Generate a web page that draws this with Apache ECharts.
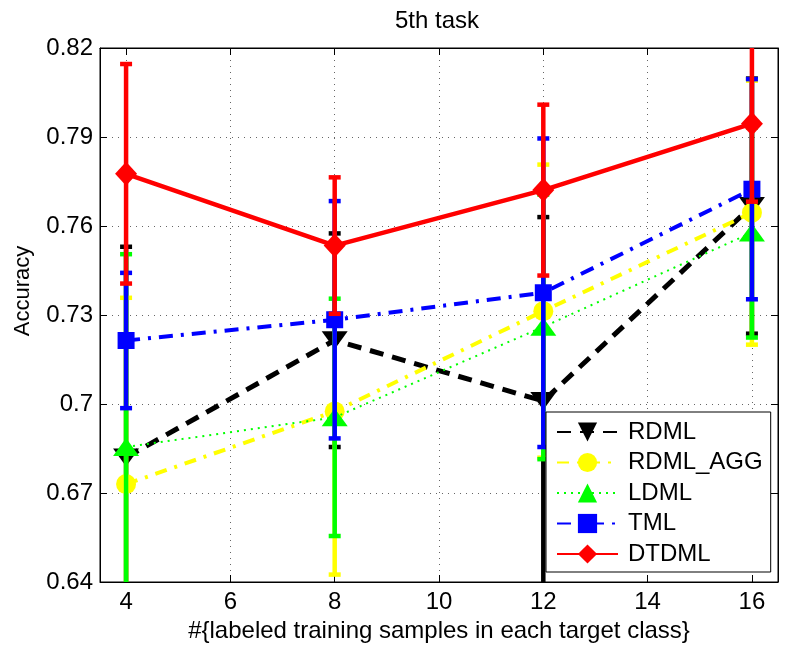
<!DOCTYPE html>
<html>
<head>
<meta charset="utf-8">
<script src="https://cdn.jsdelivr.net/npm/echarts@6/dist/echarts.min.js"></script>
<style>
html, body { margin: 0; padding: 0; background: #fff; }
#chart { width: 812px; height: 652px; }
</style>
</head>
<body>
<div id="chart"></div>
<script>
// number of labeled samples per class
var samples = [4, 8, 12, 16];
var xTicks = [4, 6, 8, 10, 12, 14, 16];

// mean accuracy and error bar half-length
var rdml = [0.682, 0.7215, 0.701, 0.7667];
var rdmlErr = [0.071, 0.036, 0.062, 0.043];
var rdmlAgg = [0.673, 0.6975, 0.7313, 0.7645];
var rdmlAggErr = [0.0628, 0.055, 0.0494, 0.0445];
var ldml = [0.6855, 0.6955, 0.726, 0.7578];
var ldmlErr = [0.065, 0.04, 0.0446, 0.0354];
var tml = [0.7214, 0.7284, 0.7375, 0.7724];
var tmlErr = [0.0228, 0.040, 0.052, 0.0371];
var dtdml = [0.7776, 0.7534, 0.7721, 0.7945];
var dtdmlErr = [0.037, 0.023, 0.0288, 0.0263];

var font = "'Liberation Sans', Arial, Helvetica, sans-serif";

var myChart = echarts.init(document.getElementById('chart'));

function pairs(vals) {
    return samples.map(function (x, i) { return [x, vals[i]]; });
}

function errorBars(name, mean, err, color, z) {
    return {
        type: 'custom',
        name: name + ' err',
        z: z,
        clip: true,
        silent: true,
        data: samples.map(function (x, i) { return [x, mean[i] - err[i], mean[i] + err[i]]; }),
        encode: { x: 0, y: [1, 2] },
        renderItem: function (params, api) {
            var lo = api.coord([api.value(0), api.value(1)]);
            var hi = api.coord([api.value(0), api.value(2)]);
            var w = 6;
            var st = { stroke: color, lineWidth: 4.5 };
            return {
                type: 'group',
                children: [
                    { type: 'line', shape: { x1: lo[0], y1: lo[1], x2: hi[0], y2: hi[1] }, style: st },
                    { type: 'line', shape: { x1: lo[0] - w, y1: lo[1], x2: lo[0] + w, y2: lo[1] }, style: st },
                    { type: 'line', shape: { x1: hi[0] - w, y1: hi[1], x2: hi[0] + w, y2: hi[1] }, style: st }
                ]
            };
        }
    };
}

function line(name, vals, color, lineStyle, symbol, size, rotate, z) {
    return {
        type: 'line',
        name: name,
        z: z,
        data: pairs(vals),
        symbol: symbol,
        symbolSize: size,
        symbolRotate: rotate,
        showSymbol: true,
        itemStyle: { color: color },
        lineStyle: Object.assign({ color: color }, lineStyle)
    };
}

var series = [
    errorBars('RDML', rdml, rdmlErr, '#000000', 10),
    line('RDML', rdml, '#000000', { width: 5, type: [14, 9] }, 'triangle', [26, 18], 180, 11),
    errorBars('RDML_AGG', rdmlAgg, rdmlAggErr, '#ffff00', 12),
    line('RDML_AGG', rdmlAgg, '#ffff00', { width: 4, type: [12, 8, 3, 8] }, 'circle', 20, 0, 13),
    errorBars('LDML', ldml, ldmlErr, '#00ff00', 14),
    line('LDML', ldml, '#00ff00', { width: 2, type: [2, 5] }, 'triangle', [26, 18], 0, 15),
    errorBars('TML', tml, tmlErr, '#0000ff', 16),
    line('TML', tml, '#0000ff', { width: 4, type: [14, 8, 3, 8] }, 'rect', 17, 0, 17),
    errorBars('DTDML', dtdml, dtdmlErr, '#ff0000', 18),
    line('DTDML', dtdml, '#ff0000', { width: 4.5, type: 'solid' }, 'diamond', [22, 24], 0, 19)
];

var tickStyle = { lineStyle: { color: '#000' } };
var gridLine = { show: true, lineStyle: { type: [1, 5], color: '#666', width: 1 } };

var option = {
    animation: false,
    backgroundColor: '#fff',
    title: {
        text: '5th task',
        left: 395,
        top: 9,
        padding: 0,
        textStyle: { fontFamily: font, fontSize: 24, fontWeight: 'normal', color: '#000' }
    },
    grid: {
        left: 100, right: 34, top: 48, bottom: 70,
        show: true, borderColor: '#000', borderWidth: 1
    },
    legend: {
        data: ['RDML', 'RDML_AGG', 'LDML', 'TML', 'DTDML'],
        orient: 'vertical',
        left: 546,
        top: 412,
        z: 50,
        padding: [8, 8, 6, 10],
        itemGap: 6.5,
        itemWidth: 61,
        itemHeight: 24,
        backgroundColor: '#fff',
        borderColor: '#000',
        borderWidth: 1,
        textStyle: { fontFamily: font, fontSize: 24, color: '#000', lineHeight: 24, padding: [0, 0, 0, 5] }
    },
    xAxis: [{
        type: 'value',
        min: 3.5,
        max: 16.5,
        position: 'bottom',
        axisLine: tickStyle,
        axisTick: { inside: true, length: 7, customValues: xTicks, lineStyle: { color: '#000' } },
        axisLabel: { customValues: xTicks, fontFamily: font, fontSize: 24, color: '#000', margin: 8 },
        splitLine: gridLine,
        name: '#{labeled training samples in each target class}',
        nameLocation: 'middle',
        nameGap: 35,
        nameTextStyle: { fontFamily: font, fontSize: 24, color: '#000' }
    }, {
        type: 'value',
        min: 3.5,
        max: 16.5,
        position: 'top',
        axisLine: tickStyle,
        axisTick: { inside: true, length: 7, customValues: xTicks, lineStyle: { color: '#000' } },
        axisLabel: { show: false },
        splitLine: { show: false }
    }],
    yAxis: [{
        type: 'value',
        min: 0.64,
        max: 0.82,
        interval: 0.03,
        position: 'left',
        axisLine: { show: true, lineStyle: { color: '#000' } },
        axisTick: { show: true, inside: true, length: 7, lineStyle: { color: '#000' } },
        axisLabel: {
            fontFamily: font, fontSize: 24, color: '#000', margin: 7,
            formatter: function (v) { return String(Math.round(v * 100) / 100); }
        },
        splitLine: gridLine,
        name: 'Accuracy',
        nameLocation: 'middle',
        nameGap: 66,
        nameTextStyle: { fontFamily: font, fontSize: 22, color: '#000', padding: [0, 0, 0, 48] }
    }, {
        type: 'value',
        min: 0.64,
        max: 0.82,
        interval: 0.03,
        position: 'right',
        axisLine: { show: true, lineStyle: { color: '#000' } },
        axisTick: { show: true, inside: true, length: 7, lineStyle: { color: '#000' } },
        axisLabel: { show: false },
        splitLine: { show: false }
    }],
    series: series
};

myChart.setOption(option);
</script>
</body>
</html>
